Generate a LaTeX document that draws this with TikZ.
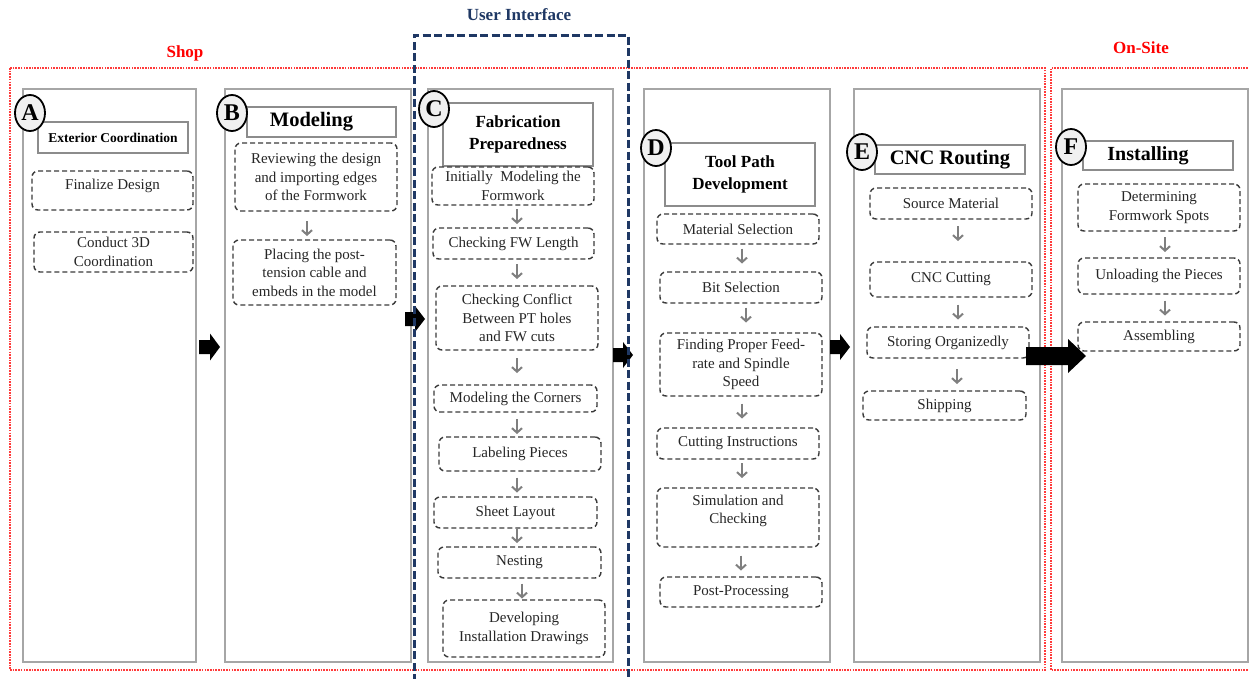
\documentclass[tikz,border=0pt]{standalone}
\usepackage{fontspec}
\setmainfont{Liberation Serif}
\usetikzlibrary{shapes.geometric,arrows.meta,calc}
\definecolor{navy}{HTML}{1F3864}
\definecolor{colgray}{HTML}{A6A6A6}
\definecolor{hdrgray}{HTML}{8C8C8C}
\definecolor{dashgray}{HTML}{3A3A3A}
\definecolor{txt}{HTML}{262626}
\definecolor{circfill}{HTML}{F0F0F0}
\definecolor{arrgray}{HTML}{7F7F7F}
\definecolor{zonered}{HTML}{FF3B3B}
\newcommand\bodyfont{\fontsize{15}{18.5}\selectfont}
\newcommand\garrow[4]{%
  \path ($(#1.south)!.5!(#2.north)$) ++(0,#4) coordinate (gm);
  \coordinate (gx) at (#3,0);
  \draw[garr] ($(gx |- gm)+(0,-7.5)$) -- ($(gx |- gm)+(0,7.5)$);}
\newcommand\blockarrow[6]{%
  \fill[black] (#1,#2) ++(0,-#4) -- ++({#3-#6},0) -- ++(0,{#4-#5}) -- ++(#6,#5)
    -- ++(-#6,#5) -- ++(0,{#4-#5}) -- ++({#6-#3},0) -- cycle;}
\begin{document}
\begin{tikzpicture}[x=1pt,y=-1pt,
  col/.style={draw=colgray, line width=1.5pt, inner sep=0pt},
  hdr/.style={draw=hdrgray, line width=1.2pt, fill=white, align=center, inner sep=0pt, text=black},
  dbox/.style={draw=dashgray, dash pattern=on 5pt off 3pt, line width=1.4pt, rounded corners=6pt,
    align=center, inner sep=0pt, text=txt, font=\bodyfont},
  letter/.style={ellipse, draw=black, line width=1.8pt, fill=circfill, minimum width=30pt,
    minimum height=36pt, inner sep=0pt, font=\fontsize{24}{24}\selectfont\bfseries},
  zone/.style={draw=zonered, line width=1.4pt, dash pattern=on 1.6pt off 1.1pt},
  ui/.style={draw=navy, line width=3pt, dash pattern=on 8pt off 3.5pt},
  garr/.style={draw=arrgray, line width=2pt, -{Straight Barb[length=4.5pt,width=10pt]}},
  zlabel/.style={font=\fontsize{17}{17}\selectfont\bfseries, inner sep=0pt}
]
\useasboundingbox (0,0) rectangle (1249,678);

% zones
\draw[zone] (10,68) rectangle (1045,670);
\draw[zone] (1253,68) -- (1051,68) -- (1051,670) -- (1253,670);
\node[zlabel, text=red] (shop) at (185,53) {Shop};
\node[zlabel, text=red] (onsite) at (1141,48) {On-Site};
\node[zlabel, text=navy] (uil) at (519,15) {User Interface};

% columns
\node[col, minimum width=173, minimum height=573] (colA) at (109.5,375.5) {};
\node[col, minimum width=186, minimum height=573] (colB) at (318,375.5) {};
\node[col, minimum width=185, minimum height=573] (colC) at (520.5,375.5) {};
\node[col, minimum width=186, minimum height=573] (colD) at (737,375.5) {};
\node[col, minimum width=186, minimum height=573] (colE) at (947,375.5) {};
\node[col, minimum width=186, minimum height=573] (colF) at (1155,375.5) {};

% headers
\node[hdr, minimum width=150, minimum height=31, font=\fontsize{13.5}{16}\selectfont\bfseries] (hA) at (113,137.5) {Exterior Coordination};
\node[hdr, minimum width=149, minimum height=30, font=\fontsize{20.5}{22}\selectfont\bfseries] (hB) at (321.5,122) {\hspace*{-20pt}Modeling};
\node[hdr, minimum width=150, minimum height=63, font=\fontsize{17}{22}\selectfont\bfseries] (hC) at (518,134.5) {Fabrication\\Preparedness};
\node[hdr, minimum width=150, minimum height=63, font=\fontsize{17}{22}\selectfont\bfseries] (hD) at (740,174.5) {Tool Path\\Development};
\node[hdr, minimum width=150, minimum height=29, font=\fontsize{20.5}{22}\selectfont\bfseries] (hE) at (950,159.5) {CNC Routing};
\node[hdr, minimum width=150, minimum height=29, font=\fontsize{20}{22}\selectfont\bfseries] (hF) at (1158,155.5) {\hspace*{-20pt}Installing};

% letters
\node[letter] (lA) at (30,113) {A};
\node[letter] (lB) at (232,113) {B};
\node[letter] (lC) at (434,109) {C};
\node[letter] (lD) at (656,148) {D};
\node[letter] (lE) at (862,152) {E};
\node[letter] (lF) at (1071,147) {F};

% A
\node[dbox, minimum width=161, minimum height=39] (a1) at (112.5,190.5) {Finalize Design\\[-6pt]\mbox{}};
\node[dbox, minimum width=159, minimum height=40] (a2) at (113.5,252) {Conduct 3D\\Coordination};
% B
\node[dbox, minimum width=162, minimum height=68] (b1) at (316,177) {Reviewing the design\\and importing edges\\of the Formwork};
\node[dbox, minimum width=163, minimum height=65] (b2) at (314.5,272.5) {Placing the post-\\tension cable and\\embeds in the model};
% C
\node[dbox, minimum width=162, minimum height=38] (c1) at (513,186) {Initially\ \ Modeling the\\Formwork};
\node[dbox, minimum width=161, minimum height=31] (c2) at (513.5,243.5) {Checking FW Length};
\node[dbox, minimum width=162, minimum height=64] (c3) at (517,318) {Checking Conflict\\Between PT holes\\and FW cuts};
\node[dbox, minimum width=163, minimum height=27] (c4) at (515.5,398.5) {Modeling the Corners};
\node[dbox, minimum width=162, minimum height=34] (c5) at (520,454) {Labeling Pieces};
\node[dbox, minimum width=163, minimum height=31] (c6) at (515.5,512.5) {Sheet Layout};
\node[dbox, minimum width=163, minimum height=31] (c7) at (519.5,562.5) {Nesting};
\node[dbox, minimum width=162, minimum height=57] (c8) at (524,628.5) {Developing\\Installation Drawings};
% D
\node[dbox, minimum width=162, minimum height=30] (d1) at (738,229) {Material Selection};
\node[dbox, minimum width=162, minimum height=31] (d2) at (741,287.5) {Bit Selection};
\node[dbox, minimum width=162, minimum height=63] (d3) at (741,364.5) {Finding Proper Feed-\\rate and Spindle\\Speed};
\node[dbox, minimum width=162, minimum height=31] (d4) at (738,443.5) {Cutting Instructions};
\node[dbox, minimum width=162, minimum height=59] (d5) at (738,517.5) {Simulation and\\Checking\\[-2pt]\mbox{}};
\node[dbox, minimum width=162, minimum height=30] (d6) at (741,592) {Post-Processing};
% E
\node[dbox, minimum width=162, minimum height=31] (e1) at (951,203.5) {Source Material};
\node[dbox, minimum width=162, minimum height=35] (e2) at (951,279.5) {CNC Cutting};
\node[dbox, minimum width=162, minimum height=31] (e3) at (948,342.5) {Storing Organizedly};
\node[dbox, minimum width=163, minimum height=29] (e4) at (944.5,405.5) {Shipping};
% F
\node[dbox, minimum width=162, minimum height=47] (f1) at (1159,207.5) {Determining\\Formwork Spots};
\node[dbox, minimum width=162, minimum height=36] (f2) at (1159,276) {Unloading the Pieces};
\node[dbox, minimum width=162, minimum height=29] (f3) at (1159,336.5) {Assembling};

% gray arrows
\garrow{b1}{b2}{307}{3}
\garrow{c1}{c2}{517}{0}
\garrow{c2}{c3}{517}{-1}
\garrow{c3}{c4}{517}{-2}
\garrow{c4}{c5}{517}{2}
\garrow{c5}{c6}{517}{1}
\garrow{c6}{c7}{517}{-2}
\garrow{c7}{c8}{522}{2}
\garrow{d1}{d2}{742}{-2}
\garrow{d2}{d3}{746}{-3}
\garrow{d3}{d4}{742}{-1}
\garrow{d4}{d5}{742}{-3}
\garrow{d5}{d6}{741}{1}
\garrow{e1}{e2}{958}{-7}
\garrow{e2}{e3}{958}{0}
\garrow{e3}{e4}{957}{2}
\garrow{f1}{f2}{1165}{0}
\garrow{f2}{f3}{1165}{0}

% block arrows between stages
\blockarrow{199}{347}{21}{7}{13.5}{10}
\blockarrow{405}{319}{20}{7}{13}{10}
\blockarrow{613}{355}{20}{7}{13}{10}
\blockarrow{830}{347}{20}{7}{13}{10}
\blockarrow{1026}{356}{60}{9}{17}{18}

% user interface box
\draw[ui] (414,682) -- (414,35) -- (628,35) -- (628,682);
\end{tikzpicture}
\end{document}
